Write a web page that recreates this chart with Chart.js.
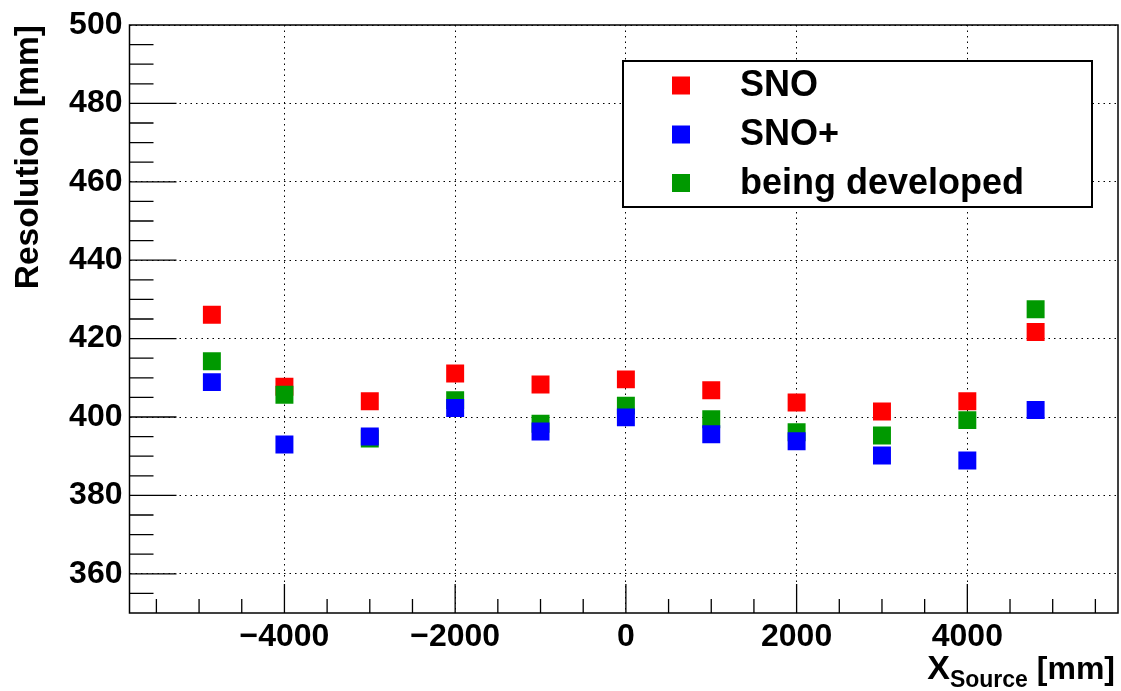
<!DOCTYPE html>
<html>
<head>
<meta charset="utf-8">
<script src="https://cdn.jsdelivr.net/npm/chart.js@4"></script>
<style>
  html, body { margin: 0; padding: 0; background: #fff; }
  canvas { display: block; }
</style>
</head>
<body>
<canvas id="resChart" width="1121" height="691"></canvas>
<script>
'use strict';

// source positions along X [mm]
const xPositions = [-4850, -4000, -3000, -2000, -1000, 0, 1000, 2000, 3000, 4000, 4800];
// resolution [mm] for each fitter
const snoValues = [426.1, 407.7, 404.0, 411.1, 408.3, 409.6, 406.8, 403.7, 401.4, 404.0, 421.7];
const snoPlusValues = [408.9, 393.0, 395.0, 402.3, 396.3, 399.9, 395.6, 393.8, 390.2, 388.9, 401.8];
const developedValues = [414.2, 405.7, 394.5, 404.3, 398.3, 402.9, 399.4, 396.1, 395.3, 399.2, 427.5];

const seriesNames = ['SNO', 'SNO+', 'being developed'];
const seriesColors = ['#ff0000', '#0000ff', '#009900'];

const xTicks = [-4000, -2000, 0, 2000, 4000];
const xTickLabels = ['\u22124000', '\u22122000', '0', '2000', '4000'];
const yTicks = [360, 380, 400, 420, 440, 460, 480, 500];
const yTickLabels = ['360', '380', '400', '420', '440', '460', '480', '500'];

const FONT = '"Liberation Sans", Arial, Helvetica, sans-serif';
Chart.defaults.font.family = FONT;
Chart.defaults.font.weight = 'bold';
Chart.defaults.color = '#000';

function toPoints(values) {
  let pts = [];
  for (let i = 0; i < xPositions.length; i++) {
    pts.push({ x: xPositions[i], y: values[i] });
  }
  return pts;
}

function makeSet(idx, values, order) {
  return {
    label: seriesNames[idx],
    data: toPoints(values),
    pointStyle: 'rect',
    pointRadius: 12.7,
    pointHoverRadius: 12.7,
    backgroundColor: seriesColors[idx],
    borderColor: seriesColors[idx],
    borderWidth: 0,
    showLine: false,
    order: order
  };
}

// ROOT-like frame with inward ticks
const framePlugin = {
  id: 'rootFrame',
  afterDraw(chart) {
    const ctx = chart.ctx;
    const a = chart.chartArea;
    const xs = chart.scales.x;
    const ys = chart.scales.y;
    ctx.save();
    ctx.strokeStyle = '#000';
    ctx.lineWidth = 1.5;
    ctx.strokeRect(a.left, a.top, a.right - a.left, a.bottom - a.top);

    ctx.lineWidth = 1.3;
    ctx.beginPath();
    for (let v = 355; v < 500; v += 5) {
      const py = ys.getPixelForValue(v);
      const len = yTicks.includes(v) ? 47 : 24;
      ctx.moveTo(a.left, py);
      ctx.lineTo(a.left + len, py);
    }
    for (let v = -5500; v <= 5500; v += 500) {
      const px = xs.getPixelForValue(v);
      const len = xTicks.includes(v) ? 29 : 14;
      ctx.moveTo(px, a.bottom);
      ctx.lineTo(px, a.bottom - len);
    }
    ctx.stroke();

    // x axis title with subscript
    const end = a.right - 3;
    ctx.fillStyle = '#000';
    ctx.textBaseline = 'alphabetic';
    ctx.textAlign = 'left';
    ctx.font = 'bold 32px ' + FONT;
    const unitW = ctx.measureText(' [mm]').width;
    ctx.font = 'bold 23px ' + FONT;
    const subW = ctx.measureText('Source').width;
    ctx.font = 'bold 34px ' + FONT;
    const xW = ctx.measureText('X').width;
    let tx = end - unitW - subW - xW;
    ctx.fillText('X', tx, 679);
    tx += xW;
    ctx.font = 'bold 23px ' + FONT;
    ctx.fillText('Source', tx, 687);
    tx += subW;
    ctx.font = 'bold 32px ' + FONT;
    ctx.fillText(' [mm]', tx, 679);

    // legend box
    const lx = 623, ly = 61, lw = 469, lh = 146;
    ctx.fillStyle = '#fff';
    ctx.fillRect(lx, ly, lw, lh);
    ctx.lineWidth = 2;
    ctx.strokeRect(lx, ly, lw, lh);
    const rowY = [85.5, 134.5, 183];
    ctx.font = 'bold 36px ' + FONT;
    ctx.textBaseline = 'middle';
    for (let i = 0; i < seriesNames.length; i++) {
      ctx.fillStyle = seriesColors[i];
      ctx.fillRect(681 - 9, rowY[i] - 9, 18, 18);
      ctx.fillStyle = '#000';
      ctx.fillText(seriesNames[i], 740, rowY[i] + 1);
    }
    ctx.restore();
  }
};

const ctx = document.getElementById('resChart').getContext('2d');

const chartObj = {
  type: 'scatter',
  data: {
    datasets: [
      makeSet(0, snoValues, 3),
      makeSet(2, developedValues, 2),
      makeSet(1, snoPlusValues, 1)
    ]
  },
  options: {
    responsive: false,
    devicePixelRatio: 1,
    animation: false,
    layout: {
      autoPadding: false,
      padding: { top: 25, right: 3, left: 0, bottom: 0 }
    },
    plugins: {
      legend: { display: false },
      tooltip: { enabled: false }
    },
    scales: {
      x: {
        type: 'linear',
        min: -5815,
        max: 5765,
        afterBuildTicks: (s) => { s.ticks = xTicks.map(v => ({ value: v })); },
        afterFit: (s) => {
          s.height = 78;
          s.paddingLeft = 0;
          s.paddingRight = 0;
        },
        ticks: {
          autoSkip: false,
          maxRotation: 0,
          padding: 5,
          font: { size: 32, weight: 'bold' },
          color: '#000',
          callback: (v, i) => xTickLabels[i]
        },
        grid: { color: '#000', lineWidth: 1, drawTicks: false },
        border: { display: false, dash: [1.5, 4] }
      },
      y: {
        type: 'linear',
        min: 350,
        max: 500,
        afterBuildTicks: (s) => { s.ticks = yTicks.map(v => ({ value: v })); },
        afterFit: (s) => {
          s.width = 129.5;
          s.paddingTop = 0;
          s.paddingBottom = 0;
        },
        ticks: {
          autoSkip: false,
          padding: 7,
          font: { size: 32, weight: 'bold' },
          color: '#000',
          callback: (v, i) => yTickLabels[i]
        },
        grid: { color: '#000', lineWidth: 1, drawTicks: false },
        border: { display: false, dash: [1.5, 4] },
        title: {
          display: true,
          text: 'Resolution [mm]',
          align: 'end',
          color: '#000',
          font: { size: 33.5, weight: 'bold' },
          padding: { top: 9, bottom: 0 }
        }
      }
    }
  },
  plugins: [framePlugin]
};

const resChart = new Chart(ctx, chartObj);
</script>
</body>
</html>
